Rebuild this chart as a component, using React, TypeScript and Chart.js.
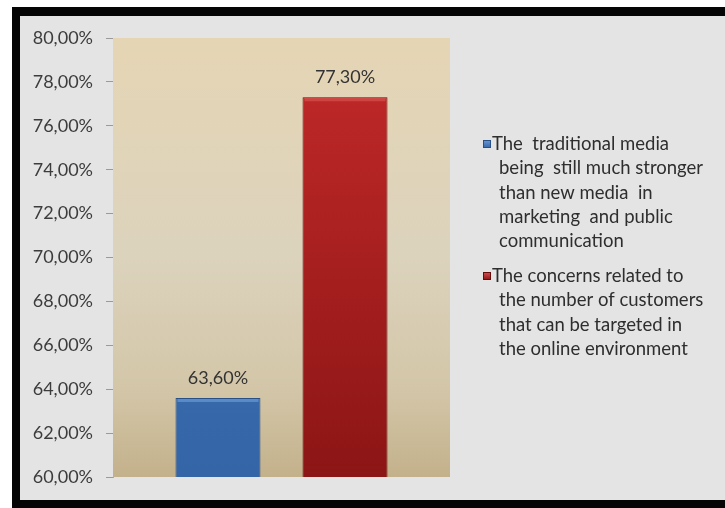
import React, { useEffect, useRef } from "react";
import { Chart, registerables } from "chart.js";

Chart.register(...registerables);

const categories = [""];
const seriesLabels = [
  "The traditional media being still much stronger than new media in marketing and public communication",
  "The concerns related to the number of customers that can be targeted in the online environment",
];
const seriesValues = [63.6, 77.3];
const legendLines = [
  ["The  traditional media", "being  still much stronger", "than new media  in", "marketing  and public", "communication"],
  ["The concerns related to", "the number of customers", "that can be targeted in", "the online environment"],
];
const yMin = 60;
const yMax = 80;
const yStep = 2;

const FONT = "Lato, 'Liberation Sans', sans-serif";

const fmt = (v: number) => v.toFixed(2).replace(".", ",") + "%";

const barColors = [
  { top: "#4378bd", bottom: "#3465a6", border: "#284f86", light: "#6a9ad6" },
  { top: "#c42a2a", bottom: "#8c1515", border: "#650c0c", light: "#d85050" },
];

const bgPlugin = {
  id: "plotBg",
  beforeDatasetsDraw(chart: any) {
    const { ctx, chartArea: a } = chart;
    const g = ctx.createLinearGradient(0, a.top, 0, a.bottom);
    g.addColorStop(0, "#e5d5b4");
    g.addColorStop(0.5, "#dcd3bd");
    g.addColorStop(0.8, "#d3c6a8");
    g.addColorStop(1, "#c3b18b");
    ctx.save();
    ctx.fillStyle = g;
    ctx.fillRect(a.left, a.top, a.right - a.left, a.bottom - a.top);
    ctx.restore();
  },
};

const labelPlugin = {
  id: "valueLabels",
  afterDatasetsDraw(chart: any) {
    const { ctx } = chart;
    ctx.save();
    chart.data.datasets.forEach((ds: any, i: number) => {
      const meta = chart.getDatasetMeta(i);
      meta.data.forEach((el: any, j: number) => {
        const w = el.width;
        ctx.fillStyle = barColors[i].light;
        ctx.globalAlpha = 0.7;
        ctx.fillRect(el.x - w / 2 + 2, el.y + 1, w - 4, 3);
        ctx.globalAlpha = 1;
        ctx.fillStyle = "#333333";
        ctx.font = `18px ${FONT}`;
        ctx.textAlign = "center";
        ctx.textBaseline = "middle";
        ctx.fillText(fmt(ds.data[j]), el.x, el.y - 20);
      });
    });
    ctx.restore();
  },
};

const legendPlugin = {
  id: "sideLegend",
  afterDraw(chart: any) {
    const { ctx } = chart;
    ctx.save();
    ctx.font = `18.5px ${FONT}`;
    ctx.textBaseline = "middle";
    ctx.textAlign = "left";
    const starts = [144, 276];
    const lh = 24.3;
    legendLines.forEach((lines, i) => {
      const y0 = starts[i];
      const c = barColors[i];
      const mg = ctx.createLinearGradient(0, y0 - 4, 0, y0 + 4);
      mg.addColorStop(0, c.light);
      mg.addColorStop(1, c.bottom);
      ctx.fillStyle = mg;
      ctx.fillRect(483, y0 - 4, 8, 8);
      ctx.strokeStyle = c.border;
      ctx.lineWidth = 1;
      ctx.strokeRect(483.5, y0 - 3.5, 7, 7);
      ctx.fillStyle = "#2e2e2e";
      lines.forEach((t, k) => {
        ctx.fillText(t, k === 0 ? 492 : 499, y0 + k * lh);
      });
    });
    ctx.restore();
  },
};

export default function App() {
  const ref = useRef<HTMLCanvasElement>(null);
  useEffect(() => {
    if (!ref.current) return;
    const chart = new Chart(ref.current, {
      type: "bar",
      data: {
        labels: categories,
        datasets: seriesValues.map((v, i) => ({
          label: seriesLabels[i],
          data: [v],
          backgroundColor: (c: any) => {
            const a = c.chart.chartArea;
            if (!a) return barColors[i].top;
            const g = c.chart.ctx.createLinearGradient(0, a.top, 0, a.bottom);
            g.addColorStop(0, barColors[i].top);
            g.addColorStop(1, barColors[i].bottom);
            return g;
          },
          borderColor: barColors[i].border,
          borderWidth: 1,
          categoryPercentage: 0.754,
          barPercentage: 0.669,
        })),
      },
      options: {
        animation: false,
        responsive: false,
        devicePixelRatio: 1,
        layout: { padding: { left: 0, top: 38, right: 275, bottom: 31 } },
        plugins: { legend: { display: false }, tooltip: { enabled: false } },
        scales: {
          x: { display: false },
          y: {
            min: yMin,
            max: yMax,
            afterFit: (s: any) => {
              s.width = 113;
            },
            ticks: {
              stepSize: yStep,
              padding: 13,
              color: "#3c3c3c",
              font: { family: FONT, size: 18 },
              callback: (v: any) => fmt(Number(v)),
            },
            grid: { drawOnChartArea: false, drawTicks: true, tickLength: 7, color: "#9a9a9a" },
            border: { display: true, color: "#a8a8a8" },
          },
        },
      },
      plugins: [bgPlugin, labelPlugin, legendPlugin],
    });
    return () => chart.destroy();
  }, []);

  return (
    <div style={{ position: "fixed", left: 0, top: 0, width: 725, height: 508, background: "#ffffff", overflow: "hidden" }}>
      <div style={{ position: "absolute", left: 12, top: 7, width: 713, height: 501, background: "#050505" }} />
      <div style={{ position: "absolute", left: 20, top: 16, width: 705, height: 484, background: "#e4e4e4" }} />
      <canvas ref={ref} width={725} height={508} style={{ position: "absolute", left: 0, top: 0, width: 725, height: 508 }} />
    </div>
  );
}
